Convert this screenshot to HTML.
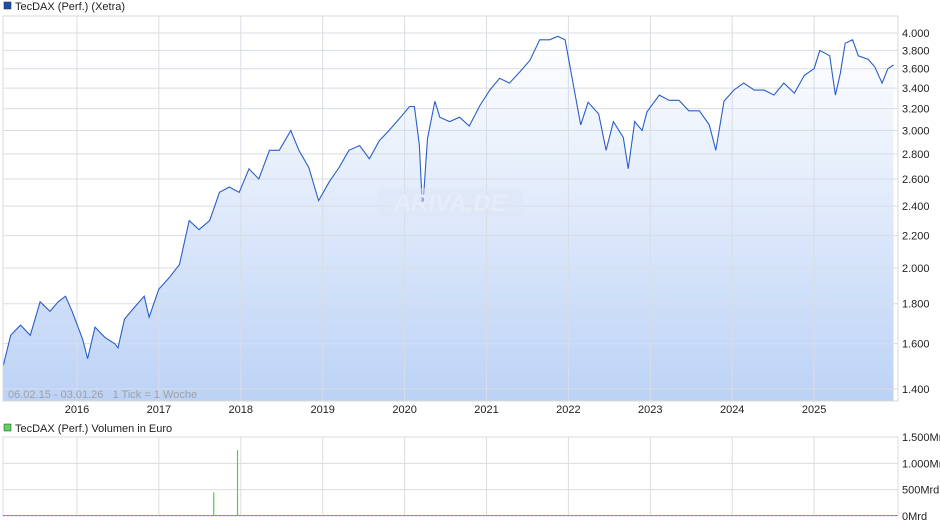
<!DOCTYPE html>
<html><head><meta charset="utf-8"><style>
body{margin:0;background:#fff;width:940px;height:526px;overflow:hidden;font-family:"Liberation Sans",sans-serif}
svg text{font-family:"Liberation Sans",sans-serif}
</style></head><body>
<svg id="c" width="940" height="526">
<defs><linearGradient id="g" x1="0" y1="0" x2="0" y2="1"><stop offset="0" stop-color="#ffffff"/><stop offset="1" stop-color="#bcd2f6"/></linearGradient></defs>
<rect x="4" y="2" width="7" height="7" fill="#1a4fb0" stroke="#223" stroke-width="0.5"/>
<text x="15" y="10" font-size="11" fill="#222">TecDAX (Perf.) (Xetra)</text>
<g id="grid"></g>
<g id="main"></g>
<rect x="3" y="16" width="895" height="385" fill="none" stroke="#d8d8d8"/>
<g><rect x="377" y="188" width="146" height="28" rx="6" fill="#dbe5f5" opacity="0.5"/><text x="450" y="211" font-size="24" font-style="italic" font-weight="bold" fill="#e6edf8" text-anchor="middle">ARIVA.DE</text></g>
<text x="8" y="398" font-size="11" fill="#a0a0a0" xml:space="preserve" style="white-space:pre">06.02.15 - 03.01.26   1 Tick = 1 Woche</text>
<rect x="4" y="424" width="7" height="7" fill="#5fd35f" stroke="#333" stroke-width="0.5"/>
<text x="15" y="432" font-size="11" fill="#222">TecDAX (Perf.) Volumen in Euro</text>
<g id="vol"></g>
</svg>
<script>
const dates=[2015.10,2015.19,2015.31,2015.43,2015.55,2015.67,2015.77,2015.86,2015.94,2016.07,2016.13,2016.22,2016.34,2016.46,2016.50,2016.58,2016.70,2016.82,2016.88,2017.00,2017.12,2017.25,2017.37,2017.49,2017.62,2017.74,2017.86,2017.98,2018.10,2018.22,2018.35,2018.47,2018.61,2018.71,2018.83,2018.95,2019.08,2019.20,2019.32,2019.45,2019.57,2019.69,2019.81,2019.94,2020.06,2020.12,2020.18,2020.22,2020.28,2020.37,2020.43,2020.55,2020.67,2020.79,2020.92,2021.04,2021.16,2021.28,2021.40,2021.53,2021.65,2021.77,2021.87,2021.96,2022.05,2022.15,2022.24,2022.37,2022.46,2022.55,2022.67,2022.73,2022.81,2022.90,2022.96,2023.11,2023.23,2023.35,2023.47,2023.60,2023.72,2023.80,2023.90,2024.02,2024.14,2024.27,2024.39,2024.51,2024.63,2024.76,2024.88,2025.00,2025.07,2025.19,2025.26,2025.32,2025.38,2025.47,2025.54,2025.66,2025.74,2025.83,2025.90,2025.97];
const values=[1500,1640,1690,1640,1810,1760,1810,1840,1760,1620,1530,1680,1630,1600,1580,1720,1780,1840,1730,1880,1940,2020,2300,2240,2300,2500,2540,2500,2680,2600,2830,2830,3000,2830,2690,2440,2580,2690,2830,2870,2760,2910,3000,3110,3220,3220,2880,2370,2930,3270,3120,3080,3120,3040,3230,3380,3500,3450,3560,3690,3920,3920,3960,3920,3480,3050,3260,3150,2830,3080,2940,2680,3080,3000,3170,3330,3280,3280,3180,3180,3050,2830,3270,3380,3450,3380,3380,3330,3450,3350,3530,3600,3800,3740,3330,3550,3880,3920,3740,3700,3620,3450,3600,3640];
const volDates=[2017.67,2017.96,2020.55,2020.65,2022.30];
const volValues=[450,1250,8,5,6];
const yTicks=[1400,1600,1800,2000,2200,2400,2600,2800,3000,3200,3400,3600,3800,4000];
const years=[2016,2017,2018,2019,2020,2021,2022,2023,2024,2025];
const volTicks=[0,500,1000,1500];
const volLabels=["0Mrd","500Mrd","1.000Mrd","1.500Mrd"];
const NS="http://www.w3.org/2000/svg";
const X=t=>77+(t-2016)*81.9;
const Y=v=>33+Math.log(4000/v)*339;
const VY=v=>516-v/1500*79;
function mk(tag,attrs,parent){const e=document.createElementNS(NS,tag);for(const k in attrs)e.setAttribute(k,attrs[k]);parent.appendChild(e);return e;}
const grid=document.getElementById('grid'),main=document.getElementById('main'),vol=document.getElementById('vol');
mk('rect',{x:3,y:16,width:895,height:385,fill:'#fff'},grid);
let pts=dates.map((d,i)=>X(d).toFixed(1)+','+Y(values[i]).toFixed(1));
const area=mk('path',{d:'M'+X(dates[0])+',401 L'+pts.join(' L')+' L'+X(dates[dates.length-1])+',401 Z',fill:'url(#g)'},grid);


yTicks.forEach(v=>{
 const l=mk('line',{x1:3,x2:898,y1:Y(v),y2:Y(v),stroke:'#d8dde5','stroke-width':1},main);
 
 
 const t=mk('text',{x:902,y:Y(v)+4,'font-size':11,fill:'#222'},main);
 t.textContent=(v/1000).toFixed(3);
 
 
});
years.forEach(yr=>{
 const l=mk('line',{x1:X(yr),x2:X(yr),y1:16,y2:401,stroke:'#d8dde5'},main);
 
 
 const t=mk('text',{x:X(yr),y:413,'font-size':11,fill:'#222','text-anchor':'middle'},main);
 t.textContent=yr;
 
 
 const v=mk('line',{x1:X(yr),x2:X(yr),y1:437,y2:516,stroke:'#ddd'},vol);
 
 
});
const line=mk('polyline',{points:pts.join(' '),fill:'none',stroke:'#2a5ec8','stroke-width':1.1},main);


mk('rect',{x:3,y:437,width:895,height:79,fill:'none',stroke:'#ddd'},vol);
volTicks.forEach((v,i)=>{
 const l=mk('line',{x1:3,x2:898,y1:VY(v),y2:VY(v),stroke:'#ddd'},vol);
 
 
 const t=mk('text',{x:902,y:VY(v)+4,'font-size':11,fill:'#222'},vol);
 t.textContent=volLabels[i];
 
 
});
const base=mk('line',{x1:3,x2:898,y1:515.5,y2:515.5,stroke:'#e06060','stroke-dasharray':'2,2'},vol);


const base2=mk('line',{x1:5,x2:898,y1:515.5,y2:515.5,stroke:'#5fd35f','stroke-dasharray':'2,2'},vol);


volDates.forEach((d,i)=>{
 const b=mk('line',{x1:X(d),x2:X(d),y1:516,y2:VY(volValues[i]),stroke:volValues[i]>100?'#4cd04c':'#e06060','stroke-width':1.2},vol);
 
 
});
</script>
</body></html>
